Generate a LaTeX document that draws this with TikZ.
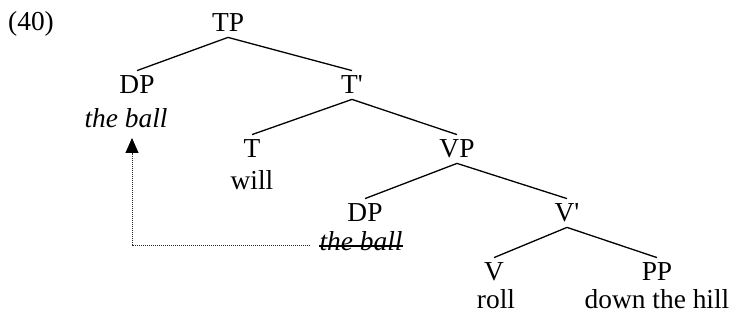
\documentclass[tikz,border=0pt]{standalone}
\usepackage{fontspec}
\setmainfont{Liberation Serif}
\usetikzlibrary{arrows.meta,positioning,calc}

\begin{document}
\begin{tikzpicture}[x=0.5pt,y=-0.5pt,
      cat/.style={inner sep=0pt,text height=11.5pt,text depth=0.5pt,anchor=base,font=\fontsize{13.7}{16}\selectfont},
      word/.style={inner sep=0pt,anchor=base,font=\fontsize{13.7}{16}\selectfont},
      branch/.style={line width=0.65pt},
      strike/.style={line width=0.6pt},
      mv/.style={line width=0.45pt,black!85,dash pattern=on 0.45pt off 0.55pt,-{Triangle[length=7.5pt,width=6.5pt,black]}}
    ]
      \useasboundingbox (0,0) rectangle (730,320);
      \node[word] (ex) at (31,31) {(40)};
      \node[cat] (tp) at (228,32) {TP};
      \node[cat] (dp) at (137,94) {DP};
      \node[cat] (tbar) at (352,94) {T\textquotesingle};
      \node[cat] (t) at (252,158) {T};
      \node[cat] (vp) at (457,158) {VP};
      \node[cat] (dpb) at (365,222) {DP};
      \node[cat] (vbar) at (567,222) {V\textquotesingle};
      \node[cat] (v) at (494,281) {V};
      \node[cat] (pp) at (657,281) {PP};
      \node[word] (ball) at (126,128) {\itshape the ball};
      \node[word] (will) at (252,190) {will};
      \node[word] (copy) at (361,251) {\itshape the ball};
      \node[word] (roll) at (496,309) {roll};
      \node[word] (hill) at (657,309) {down the hill};
      \draw[branch] ([yshift=-2]tp.south) -- (dp.north);
      \draw[branch] ([yshift=-2]tp.south) -- (tbar.north);
      \draw[branch] ([yshift=-2]tbar.south) -- (t.north);
      \draw[branch] ([yshift=-2]tbar.south) -- (vp.north);
      \draw[branch] ([yshift=-2]vp.south) -- (dpb.north);
      \draw[branch] ([yshift=-2]vp.south) -- (vbar.north);
      \draw[branch] ([yshift=-2]vbar.south) -- (v.north);
      \draw[branch] ([yshift=-2]vbar.south) -- (pp.north);
      \draw[strike] ($(copy.base west)+(0,-5)$) -- ($(copy.base east)+(0,-5)$);
      \coordinate (land) at ($(ball.base)+(6,10)$);
      \draw[mv] ($(copy.base west)+(-9,-6)$) -| (land);
    \end{tikzpicture}
\end{document}
